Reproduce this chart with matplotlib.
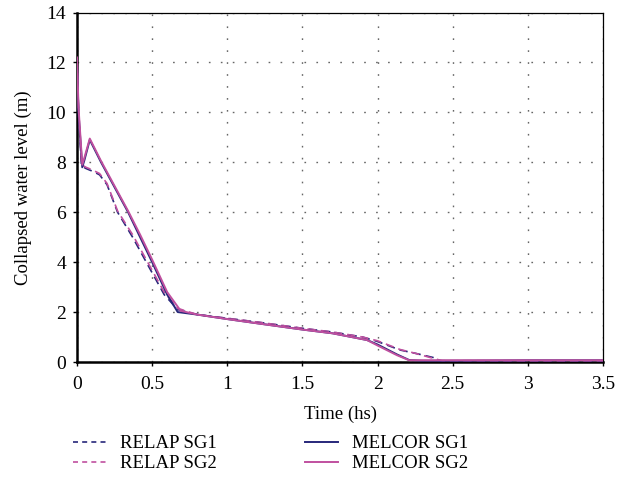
import matplotlib
matplotlib.use("Agg")
import matplotlib.pyplot as plt
from matplotlib.lines import Line2D

plt.rcParams['font.family'] = ['Liberation Serif', 'DejaVu Serif']

# Time (hs) and collapsed water level (m)
t_relap1 = [0.0, 0.01, 0.03, 0.06, 0.1, 0.15, 0.2, 0.27, 0.37, 0.47, 0.58, 0.67, 0.8, 1.0, 1.2, 1.5, 1.7, 1.9, 2.0, 2.15, 2.25, 2.37, 2.43, 2.6, 3.0, 3.5]
l_relap1 = [12.0, 10.0, 7.85, 7.75, 7.65, 7.5, 7.1, 6.0, 5.0, 3.9, 2.7, 2.1, 1.9, 1.75, 1.6, 1.35, 1.2, 1.0, 0.82, 0.48, 0.35, 0.18, 0.0, 0.0, 0.0, 0.0]
t_relap2 = [0.0, 0.01, 0.03, 0.06, 0.1, 0.15, 0.2, 0.27, 0.37, 0.47, 0.58, 0.67, 0.8, 1.0, 1.2, 1.5, 1.7, 1.9, 2.0, 2.15, 2.25, 2.35, 2.43, 2.6, 3.0, 3.5]
l_relap2 = [12.1, 10.2, 7.9, 7.8, 7.7, 7.55, 7.15, 6.05, 5.1, 4.0, 2.8, 2.15, 1.9, 1.75, 1.6, 1.35, 1.2, 1.0, 0.85, 0.5, 0.35, 0.18, 0.05, 0.05, 0.05, 0.05]
t_melcor1 = [0.0, 0.01, 0.035, 0.05, 0.085, 0.16, 0.25, 0.34, 0.42, 0.5, 0.6, 0.67, 0.8, 1.0, 1.2, 1.5, 1.7, 1.93, 2.0, 2.13, 2.21, 2.3, 2.5, 3.0, 3.5]
l_melcor1 = [12.0, 10.0, 7.8, 8.1, 8.9, 8.0, 7.0, 6.0, 5.0, 4.0, 2.7, 2.0, 1.9, 1.72, 1.55, 1.3, 1.15, 0.88, 0.7, 0.3, 0.08, 0.05, 0.05, 0.07, 0.07]
t_melcor2 = [0.0, 0.01, 0.035, 0.05, 0.085, 0.16, 0.25, 0.34, 0.42, 0.5, 0.6, 0.69, 0.8, 1.0, 1.2, 1.5, 1.7, 1.93, 2.0, 2.13, 2.21, 2.3, 2.5, 3.0, 3.5]
l_melcor2 = [12.2, 10.2, 7.9, 8.2, 8.95, 8.05, 7.05, 6.05, 5.1, 4.1, 2.8, 2.05, 1.9, 1.72, 1.55, 1.3, 1.15, 0.88, 0.66, 0.27, 0.07, 0.07, 0.07, 0.07, 0.07]

x_ticks = [0, 0.5, 1, 1.5, 2, 2.5, 3, 3.5]
x_labels = ["0", "0.5", "1", "1.5", "2", "2.5", "3", "3.5"]
y_ticks = [0, 2, 4, 6, 8, 10, 12, 14]

c_sg1 = "#27277a"
c_sg2 = "#c0509f"

fig = plt.figure(figsize=(6.27, 4.98), dpi=100)
ax = fig.add_axes([77 / 627, 1 - 362 / 498, (603 - 77) / 627, (362 - 12.5) / 498])

ax.plot(t_relap1, l_relap1, color=c_sg1, lw=1.2, ls=(0, (5, 3)), zorder=3)
ax.plot(t_relap2, l_relap2, color=c_sg2, lw=1.2, ls=(0, (5, 3)), zorder=3)
ax.plot(t_melcor1, l_melcor1, color=c_sg1, lw=1.4, zorder=4)
ax.plot(t_melcor2, l_melcor2, color=c_sg2, lw=1.4, zorder=4)

ax.set_xlim(0, 3.5)
ax.set_ylim(0, 14)
ax.set_xticks(x_ticks)
ax.set_xticklabels(x_labels)
ax.set_yticks(y_ticks)
ax.grid(True, color="#666666", ls=(0, (1.2, 7.4)), lw=1.0)
ax.set_axisbelow(True)

for side in ("top", "right"):
    ax.spines[side].set_linewidth(0.9)
for side in ("left", "bottom"):
    ax.spines[side].set_linewidth(1.8)
ax.tick_params(direction="out", length=3, width=1.0, labelsize=14)
ax.tick_params(axis="x", pad=7)
ax.tick_params(axis="y", pad=5)

ax.set_xlabel("Time (hs)", fontsize=13.5, labelpad=9)
ax.set_ylabel("Collapsed water level (m)", fontsize=13.5, labelpad=10)

handles = [
    Line2D([], [], color=c_sg1, lw=1.2, ls=(0, (3, 2.5))),
    Line2D([], [], color=c_sg2, lw=1.2, ls=(0, (3, 2.5))),
    Line2D([], [], color=c_sg1, lw=1.4),
    Line2D([], [], color=c_sg2, lw=1.4),
]
labels = ["RELAP SG1", "RELAP SG2", "MELCOR SG1", "MELCOR SG2"]
fig.legend(handles, labels, ncol=2, loc="lower left", bbox_to_anchor=(0.09, 0.018),
           frameon=False, fontsize=13.5, handlelength=1.75, handletextpad=0.72,
           columnspacing=4.75, labelspacing=0.15)

fig.savefig("out.png", dpi=100)
